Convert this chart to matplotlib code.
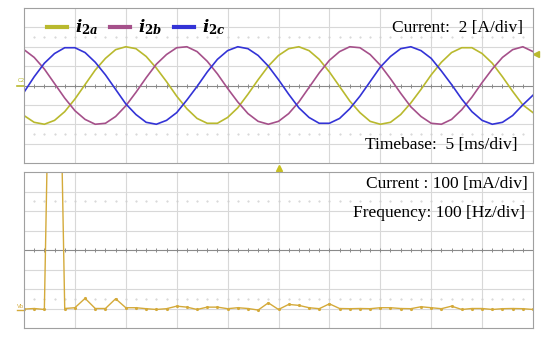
import numpy as np
import matplotlib.pyplot as plt

# --- data ---
# upper channel: grid currents, sampled every 1 ms over 50 ms (10 div x 5 ms/div)
time_ms = np.arange(0, 51)
i2a = [-3.1, -3.8, -4.0, -3.6, -2.7, -1.4, 0.1, 1.6, 2.8, 3.7, 4.0, 3.8, 3.0, 1.8, 0.4, -1.1, -2.4,
       -3.4, -3.9, -3.9, -3.3, -2.3, -0.9, 0.6, 2.0, 3.1, 3.8, 4.0, 3.6, 2.7, 1.4, -0.1, -1.6, -2.8,
       -3.7, -4.0, -3.8, -3.0, -1.8, -0.4, 1.1, 2.4, 3.4, 3.9, 3.9, 3.3, 2.3, 0.9, -0.6, -2.0, -2.8]
i2b = [3.7, 2.9, 1.7, 0.2, -1.3, -2.6, -3.5, -4.0, -3.9, -3.2, -2.1, -0.7, 0.8, 2.2, 3.2, 3.9, 4.0,
       3.5, 2.5, 1.2, -0.3, -1.7, -2.9, -3.7, -4.0, -3.7, -2.9, -1.7, -0.2, 1.3, 2.6, 3.5, 4.0, 3.9,
       3.2, 2.1, 0.7, -0.8, -2.2, -3.2, -3.9, -4.0, -3.5, -2.5, -1.2, 0.3, 1.7, 2.9, 3.7, 4.0, 3.5]
i2c = [-0.7, 0.9, 2.3, 3.3, 3.9, 3.9, 3.4, 2.4, 1.1, -0.4, -1.9, -3.0, -3.8, -4.0, -3.6, -2.8, -1.5,
       -0.1, 1.4, 2.7, 3.6, 4.0, 3.8, 3.1, 2.0, 0.6, -0.9, -2.3, -3.3, -3.9, -3.9, -3.4, -2.4, -1.1,
       0.4, 1.9, 3.0, 3.8, 4.0, 3.6, 2.8, 1.5, 0.1, -1.4, -2.7, -3.6, -4.0, -3.8, -3.1, -2.0, -1.0]

# lower channel: FFT of the current, 20 Hz bins, in mA
freq_hz = np.arange(0, 1001, 20)
spec_ma = [7, 10, 5, 2830, 10, 14, 62, 10, 10, 60, 14, 14, 9, 5, 9, 22, 17, 5, 17, 17, 9, 14, 10,
           2, 39, 5, 31, 26, 14, 9, 34, 10, 9, 10, 9, 14, 14, 10, 9, 19, 14, 9, 22, 5, 10, 10, 5,
           9, 10, 9, 5]

A_PER_DIV = 2
MS_PER_DIV = 5
MA_PER_DIV = 100
HZ_PER_DIV = 100
SPEC_REF = -3.1  # ground marker of the FFT channel (div)

col_a = '#b9b92e'
col_b = '#a5508a'
col_c = '#3333d6'
col_fft = '#d4aa3a'

plt.rcParams['mathtext.fontset'] = 'custom'
plt.rcParams['mathtext.it'] = 'DejaVu Serif:italic:bold'
plt.rcParams['mathtext.rm'] = 'DejaVu Serif:bold'


def scope_grid(ax):
    ax.set_xlim(0, 10)
    ax.set_ylim(-4, 4)
    for x in range(1, 10):
        ax.axvline(x, color='#d8d8d8', lw=0.8, zorder=0)
    for y in range(-3, 4):
        if y != 0:
            ax.axhline(y, color='#d8d8d8', lw=0.8, zorder=0)
    ax.axhline(0, color='#8a8a8a', lw=0.8, zorder=0)
    ticks = np.arange(0.2, 10, 0.2)
    ax.plot(ticks, np.zeros_like(ticks), ls='none', marker='|', ms=3, mew=0.7,
            color='#8a8a8a', zorder=0)
    for y in (2.5, -2.5):
        ax.plot(ticks, np.full_like(ticks, y), ls='none', marker='.', ms=1.0,
                color='#d0d0d0', zorder=0)
    ax.set_xticks([])
    ax.set_yticks([])
    for s in ax.spines.values():
        s.set_color('#a0a0a0')
        s.set_linewidth(0.8)


fig = plt.figure(figsize=(5.5, 3.47), dpi=100)
ax1 = fig.add_axes([24 / 550, 1 - 163 / 347, 509 / 550, 155 / 347])
ax2 = fig.add_axes([24 / 550, 1 - 328 / 347, 509 / 550, 156 / 347])
scope_grid(ax1)
scope_grid(ax2)

t_div = time_ms / MS_PER_DIV
ax1.plot(t_div, np.array(i2a) / A_PER_DIV, color=col_a, lw=1.2, label=r'$i_{2a}$')
ax1.plot(t_div, np.array(i2b) / A_PER_DIV, color=col_b, lw=1.2, label=r'$i_{2b}$')
ax1.plot(t_div, np.array(i2c) / A_PER_DIV, color=col_c, lw=1.2, label=r'$i_{2c}$')

leg = ax1.legend(ncol=3, loc='center left', bbox_to_anchor=(0.025, 0.875), frameon=False,
                 fontsize=12, handlelength=1.2, handletextpad=0.5, columnspacing=0.7,
                 borderpad=0.1)
for h in leg.get_lines():
    h.set_linewidth(3)

serif = 'Liberation Serif'
ax1.text(0.98, 0.87, 'Current:  2 [A/div]', transform=ax1.transAxes, ha='right', va='center',
         fontsize=12.5, family=serif)
ax1.text(0.97, 0.116, 'Timebase:  5 [ms/div]', transform=ax1.transAxes, ha='right', va='center',
         fontsize=12.5, family=serif)

# channel / trigger markers
ax1.plot([-0.14, 0], [0, 0], color=col_a, lw=1.2, clip_on=False)
ax1.text(-0.13, 0.12, 'C2', color=col_a, fontsize=4, ha='left', va='bottom')
ax1.plot([10.06], [1.65], marker='<', ms=4, color=col_a, clip_on=False)
ax2.plot([5], [4.2], marker='^', ms=4, color='#c8c020', clip_on=False)

f_div = freq_hz / HZ_PER_DIV
ax2.plot(f_div, SPEC_REF + np.array(spec_ma) / MA_PER_DIV, color=col_fft, lw=1.0,
         marker='.', ms=2.5)
ax2.plot([-0.14, 0], [SPEC_REF, SPEC_REF], color=col_fft, lw=1.0, clip_on=False)
ax2.text(-0.14, SPEC_REF + 0.08, 'Vb', color=col_fft, fontsize=4, ha='left', va='bottom')

ax2.text(0.99, 0.923, 'Current : 100 [mA/div]', transform=ax2.transAxes, ha='right',
         va='center', fontsize=12.5, family=serif)
ax2.text(0.984, 0.737, 'Frequency: 100 [Hz/div]', transform=ax2.transAxes, ha='right',
         va='center', fontsize=12.5, family=serif)

fig.savefig('out.png', dpi=100)
